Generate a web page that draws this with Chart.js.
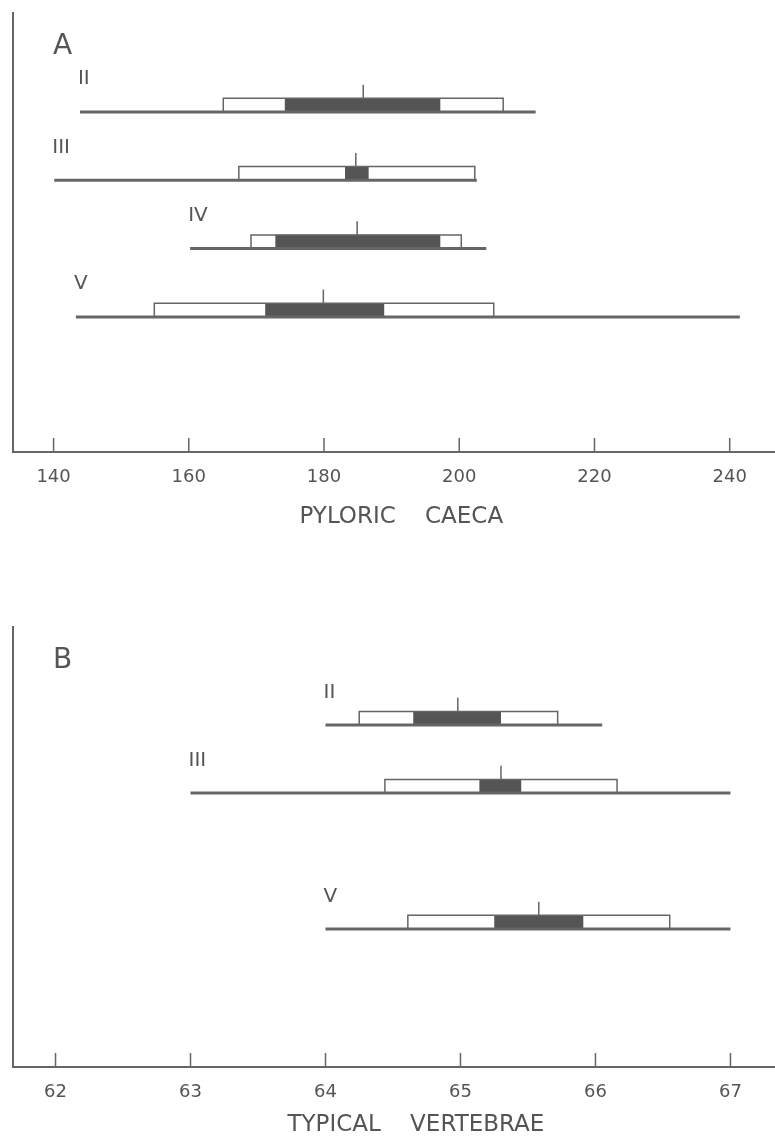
<!DOCTYPE html>
<html>
<head>
<meta charset="utf-8">
<script src="https://cdn.jsdelivr.net/npm/chart.js@4.4.1/dist/chart.umd.min.js"></script>
<style>
  body { margin: 0; background: #fff; }
  canvas { position: absolute; left: 0; display: block; }
</style>
</head>
<body>
<canvas id="chartA" width="775" height="531" style="top:0px"></canvas>
<canvas id="chartB" width="775" height="525" style="top:614px"></canvas>
<script>
const rowNames = ['II', 'III', 'IV', 'V'];

// A - pyloric caeca
const caecaTicks = [140, 160, 180, 200, 220, 240];
const caecaLineLo = [143.9, 140.1, 160.2, 143.3];
const caecaLineHi = [211.3, 202.6, 204.0, 241.5];
const caecaBoxLo = [165.1, 167.4, 169.2, 154.9];
const caecaBoxHi = [206.5, 202.3, 200.3, 205.1];
const caecaDarkLo = [174.2, 183.1, 172.8, 171.3];
const caecaDarkHi = [197.2, 186.6, 197.2, 188.9];
const caecaMean = [185.8, 184.7, 184.9, 179.9];

// B - typical vertebrae (no sample for IV)
const vertTicks = [62, 63, 64, 65, 66, 67];
const vertLineLo = [64.0, 63.0, null, 64.0];
const vertLineHi = [66.05, 67.0, null, 67.0];
const vertBoxLo = [64.25, 64.44, null, 64.61];
const vertBoxHi = [65.72, 66.16, null, 66.55];
const vertDarkLo = [64.65, 65.14, null, 65.25];
const vertDarkHi = [65.30, 65.45, null, 65.91];
const vertMean = [64.98, 65.30, null, 65.58];

const ink = '#666';
const dark = '#555';
const textCol = '#555';
const BOX = 0.2;

function makeSets(lo, hi, bLo, bHi, dLo, dHi, mean) {
  const sets = [];
  rowNames.forEach((name, i) => {
    if (lo[i] == null) return;
    const r = i + 1;
    sets.push({ data: [{x: mean[i], y: r - BOX}, {x: mean[i], y: r - 2 * BOX}], borderColor: ink, borderWidth: 1.5 });
    sets.push({ data: [{x: lo[i], y: r}, {x: hi[i], y: r}], borderColor: ink, borderWidth: 3 });
    sets.push({ data: [{x: bLo[i], y: r}, {x: bLo[i], y: r - BOX}, {x: bHi[i], y: r - BOX}, {x: bHi[i], y: r}], borderColor: ink, borderWidth: 1.5 });
    sets.push({ data: [{x: dLo[i], y: r - BOX / 2}, {x: dHi[i], y: r - BOX / 2}], borderColor: dark, borderWidth: 14 });
  });
  return sets.map(s => Object.assign({
    showLine: true, pointRadius: 0, tension: 0,
    borderCapStyle: 'butt', borderJoinStyle: 'miter'
  }, s));
}

// inner tick marks, panel letter and row names
const marks = {
  id: 'marks',
  afterDatasetsDraw(chart, args, opts) {
    const {ctx, chartArea} = chart;
    const x = chart.scales.x, y = chart.scales.y;
    ctx.save();
    ctx.strokeStyle = ink;
    ctx.lineWidth = 1.5;
    x.ticks.forEach(t => {
      const px = x.getPixelForValue(t.value);
      ctx.beginPath();
      ctx.moveTo(px, chartArea.bottom);
      ctx.lineTo(px, chartArea.bottom - 14);
      ctx.stroke();
    });
    ctx.fillStyle = textCol;
    ctx.textBaseline = 'middle';
    ctx.font = '28px "DejaVu Sans"';
    ctx.fillText(opts.letter, chartArea.left + 40, chartArea.top + 34);
    ctx.font = '20px "DejaVu Sans"';
    rowNames.forEach((name, i) => {
      if (opts.starts[i] == null) return;
      ctx.fillText(name, x.getPixelForValue(opts.starts[i]) - 2, y.getPixelForValue(i + 1 - 0.48));
    });
    ctx.restore();
  }
};

function panel(id, letter, title, ticks, xMin, xMax, yMin, yMax, axisH, sets, starts) {
  return new Chart(document.getElementById(id), {
    type: 'scatter',
    data: { datasets: sets },
    plugins: [marks],
    options: {
      responsive: false,
      animation: false,
      layout: { padding: { left: 13, top: 13, right: 0, bottom: 0 } },
      plugins: {
        legend: { display: false },
        tooltip: { enabled: false },
        marks: { letter: letter, starts: starts }
      },
      scales: {
        x: {
          type: 'linear',
          min: xMin,
          max: xMax,
          afterBuildTicks: axis => { axis.ticks = ticks.map(v => ({ value: v })); },
          afterFit: axis => { axis.height = axisH; },
          grid: { display: true, drawOnChartArea: false, drawTicks: false },
          border: { display: true, color: ink, width: 2 },
          ticks: { padding: 15, color: textCol, font: { family: 'DejaVu Sans', size: 18 } },
          title: {
            display: true, text: title, color: textCol,
            font: { family: 'DejaVu Sans', size: 23 },
            padding: { top: 0, bottom: 0 }
          }
        },
        y: {
          type: 'linear',
          reverse: true,
          min: yMin,
          max: yMax,
          afterFit: axis => { axis.width = 0; },
          grid: { display: true, drawOnChartArea: false, drawTicks: false },
          border: { display: true, color: ink, width: 2 },
          ticks: { display: false }
        }
      }
    }
  });
}

panel('chartA', 'A', '  PYLORIC    CAECA', caecaTicks, 134.0, 246.7, -0.449, 5.978, 79,
  makeSets(caecaLineLo, caecaLineHi, caecaBoxLo, caecaBoxHi, caecaDarkLo, caecaDarkHi, caecaMean), caecaLineLo);

panel('chartB', 'B', '      TYPICAL    VERTEBRAE', vertTicks, 61.685, 67.33, -0.441, 6.03, 72,
  makeSets(vertLineLo, vertLineHi, vertBoxLo, vertBoxHi, vertDarkLo, vertDarkHi, vertMean), vertLineLo);
</script>
</body>
</html>
